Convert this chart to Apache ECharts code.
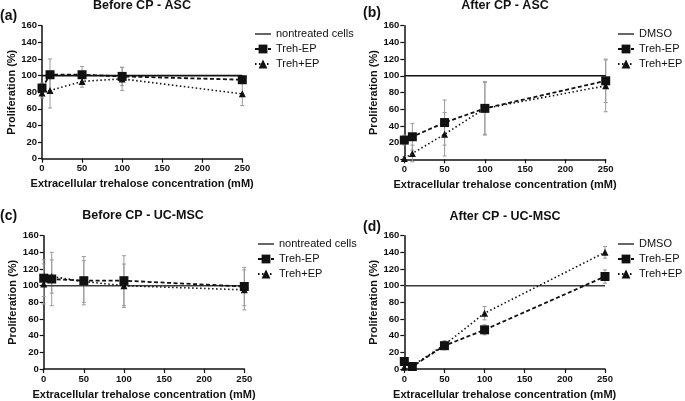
<!DOCTYPE html>
<html><head><meta charset="utf-8">
<script src="https://cdn.jsdelivr.net/npm/echarts@6/dist/echarts.min.js"></script>
<style>html,body{margin:0;padding:0;background:#fff}#c{width:685px;height:401px}</style>
</head><body><div id="c"></div>
<script>
// ---- data ----
const conc = [0, 10, 50, 100, 250];
const xTicks = [0, 50, 100, 150, 200, 250];
const yTicks = [0, 20, 40, 60, 80, 100, 120, 140, 160];
const panelTitles = ['Before CP - ASC', 'After CP - ASC', 'Before CP - UC-MSC', 'After CP - UC-MSC'];
const panelLetters = ['(a)', '(b)', '(c)', '(d)'];
const refNames = ['nontreated cells', 'DMSO', 'nontreated cells', 'DMSO'];
const refValue = 100;

const aTrehMinus = [85, 101, 101, 99, 95];
const aTrehMinusErr = [6, 19, 10, 11, 4];
const aTrehPlus = [79, 82, 93, 96, 78];
const aTrehPlusErr = [6, 21, 7, 14, 14];

const bTrehMinus = [23, 27, 44, 61, 94];
const bTrehMinusErr = [6, 16, 27, 32, 26];
const bTrehPlus = [1, 7, 30, 61, 88];
const bTrehPlusErr = [2, 10, 26, 31, 31];

const cTrehMinus = [109, 108, 106, 106, 99];
const cTrehMinusErr = [22, 32, 29, 30, 23];
const cTrehPlus = [102, 111, 105, 100, 95];
const cTrehPlusErr = [24, 20, 25, 26, 24];

const dTrehMinus = [9, 3, 28, 47, 111];
const dTrehMinusErr = [3, 2, 5, 6, 8];
const dTrehPlus = [2, 4, 29, 67, 140];
const dTrehPlusErr = [2, 2, 5, 8, 7];

const panels = [
  {minus: aTrehMinus, minusErr: aTrehMinusErr, plus: aTrehPlus, plusErr: aTrehPlusErr},
  {minus: bTrehMinus, minusErr: bTrehMinusErr, plus: bTrehPlus, plusErr: bTrehPlusErr},
  {minus: cTrehMinus, minusErr: cTrehMinusErr, plus: cTrehPlus, plusErr: cTrehPlusErr},
  {minus: dTrehMinus, minusErr: dTrehMinusErr, plus: dTrehPlus, plusErr: dTrehPlusErr}
];

// ---- layout ----
const FONT = '"Liberation Sans", Arial, sans-serif';
const grids = [
  {left: 42, top: 25.7, width: 200.3, height: 133},
  {left: 404.3, top: 25.7, width: 201.4, height: 133.6},
  {left: 43.7, top: 235.7, width: 200.6, height: 133.3},
  {left: 404.3, top: 235.7, width: 200.7, height: 133.3}
];
const titlePos = [[142, 6], [505, 6], [143, 215.5], [505, 217]];
const letterPos = [[0, 16], [363, 13], [0, 216.5], [363, 227.5]];
const legendPos = [[254, 28.5], [617, 28.5], [257, 238.5], [617, 238.5]];
const refColors = ['#111', '#111', '#3c3c3c', '#3c3c3c'];

function errRender(params, api) {
  const x = api.value(0), lo = api.value(1), hi = api.value(2);
  const p1 = api.coord([x, hi]), p2 = api.coord([x, lo]);
  const w = 2;
  const st = {stroke: '#9a9a9a', lineWidth: 1};
  return {type: 'group', children: [
    {type: 'line', shape: {x1: p1[0], y1: p1[1], x2: p2[0], y2: p2[1]}, style: st},
    {type: 'line', shape: {x1: p1[0] - w, y1: p1[1], x2: p1[0] + w, y2: p1[1]}, style: st},
    {type: 'line', shape: {x1: p2[0] - w, y1: p2[1], x2: p2[0] + w, y2: p2[1]}, style: st}
  ]};
}

const xAxis = [], yAxis = [], grid = [], series = [], legend = [], graphic = [];
panels.forEach((p, i) => {
  grid.push(grids[i]);
  xAxis.push({
    type: 'value', gridIndex: i, min: xTicks[0], max: xTicks[xTicks.length - 1], interval: 50,
    name: 'Extracellular trehalose concentration (mM)', nameLocation: 'middle', nameGap: 20,
    nameTextStyle: {fontFamily: FONT, fontWeight: 'bold', fontSize: 11, color: '#111'},
    axisLine: {lineStyle: {color: '#111', width: 1.5}},
    axisTick: {length: 4, lineStyle: {color: '#111', width: 1.2}},
    axisLabel: {fontFamily: FONT, fontWeight: 'bold', fontSize: 9.5, color: '#111', margin: 5},
    splitLine: {show: false}
  });
  yAxis.push({
    type: 'value', gridIndex: i, min: yTicks[0], max: yTicks[yTicks.length - 1], interval: 20,
    name: 'Proliferation (%)', nameLocation: 'middle', nameGap: 24,
    nameTextStyle: {fontFamily: FONT, fontWeight: 'bold', fontSize: 11, color: '#111'},
    axisLine: {lineStyle: {color: '#111', width: 1.5}},
    axisTick: {length: 4, lineStyle: {color: '#111', width: 1.2}},
    axisLabel: {fontFamily: FONT, fontWeight: 'bold', fontSize: 9.5, color: '#111', margin: 5},
    splitLine: {show: false}
  });
  series.push({
    name: refNames[i], type: 'line', xAxisIndex: i, yAxisIndex: i,
    data: [[xTicks[0], refValue], [xTicks[xTicks.length - 1], refValue]],
    symbol: 'none', lineStyle: {color: refColors[i], width: 1.6, type: 'solid'},
    itemStyle: {color: refColors[i]}, z: 3, animation: false
  });
  series.push({
    name: 'Treh-EP-err', type: 'custom', xAxisIndex: i, yAxisIndex: i,
    renderItem: errRender, encode: {x: 0, y: [1, 2]},
    data: conc.map((c, k) => [c, p.minus[k] - p.minusErr[k], p.minus[k] + p.minusErr[k]]),
    z: 1, silent: true, animation: false
  });
  series.push({
    name: 'Treh+EP-err', type: 'custom', xAxisIndex: i, yAxisIndex: i,
    renderItem: errRender, encode: {x: 0, y: [1, 2]},
    data: conc.map((c, k) => [c, p.plus[k] - p.plusErr[k], p.plus[k] + p.plusErr[k]]),
    z: 1, silent: true, animation: false
  });
  series.push({
    name: 'Treh+EP', type: 'line', xAxisIndex: i, yAxisIndex: i,
    data: conc.map((c, k) => [c, p.plus[k]]),
    symbol: 'triangle', symbolSize: 7,
    lineStyle: {color: '#111', width: 1.6, type: [1.5, 2.5]},
    itemStyle: {color: '#111'}, z: 4, animation: false
  });
  series.push({
    name: 'Treh-EP', type: 'line', xAxisIndex: i, yAxisIndex: i,
    data: conc.map((c, k) => [c, p.minus[k]]),
    symbol: 'rect', symbolSize: 9,
    lineStyle: {color: '#111', width: 1.8, type: [4, 2.5]},
    itemStyle: {color: '#111'}, z: 5, animation: false
  });
  legend.push({
    data: [
      {name: refNames[i], icon: 'path://M0,0H20V1.6H0Z'},
      'Treh-EP', 'Treh+EP'
    ], orient: 'vertical',
    left: legendPos[i][0], top: legendPos[i][1],
    itemWidth: 16, itemHeight: 11, itemGap: 4, padding: 0,
    textStyle: {fontFamily: FONT, fontSize: 11, color: '#111', lineHeight: 11},
    selectedMode: false
  });
  graphic.push({
    type: 'text', x: titlePos[i][0], y: titlePos[i][1],
    style: {text: panelTitles[i], fontFamily: FONT, fontWeight: 'bold', fontSize: 12.5, fill: '#111', align: 'center', verticalAlign: 'middle'}
  });
  graphic.push({
    type: 'text', x: letterPos[i][0], y: letterPos[i][1],
    style: {text: panelLetters[i], fontFamily: FONT, fontWeight: 'bold', fontSize: 14, fill: '#111', align: 'left', verticalAlign: 'middle'}
  });
});

const chart = echarts.init(document.getElementById('c'), null, {renderer: 'canvas'});
chart.setOption({backgroundColor: '#fff', animation: false, grid, xAxis, yAxis, series, legend, graphic});
</script>
</body></html>
